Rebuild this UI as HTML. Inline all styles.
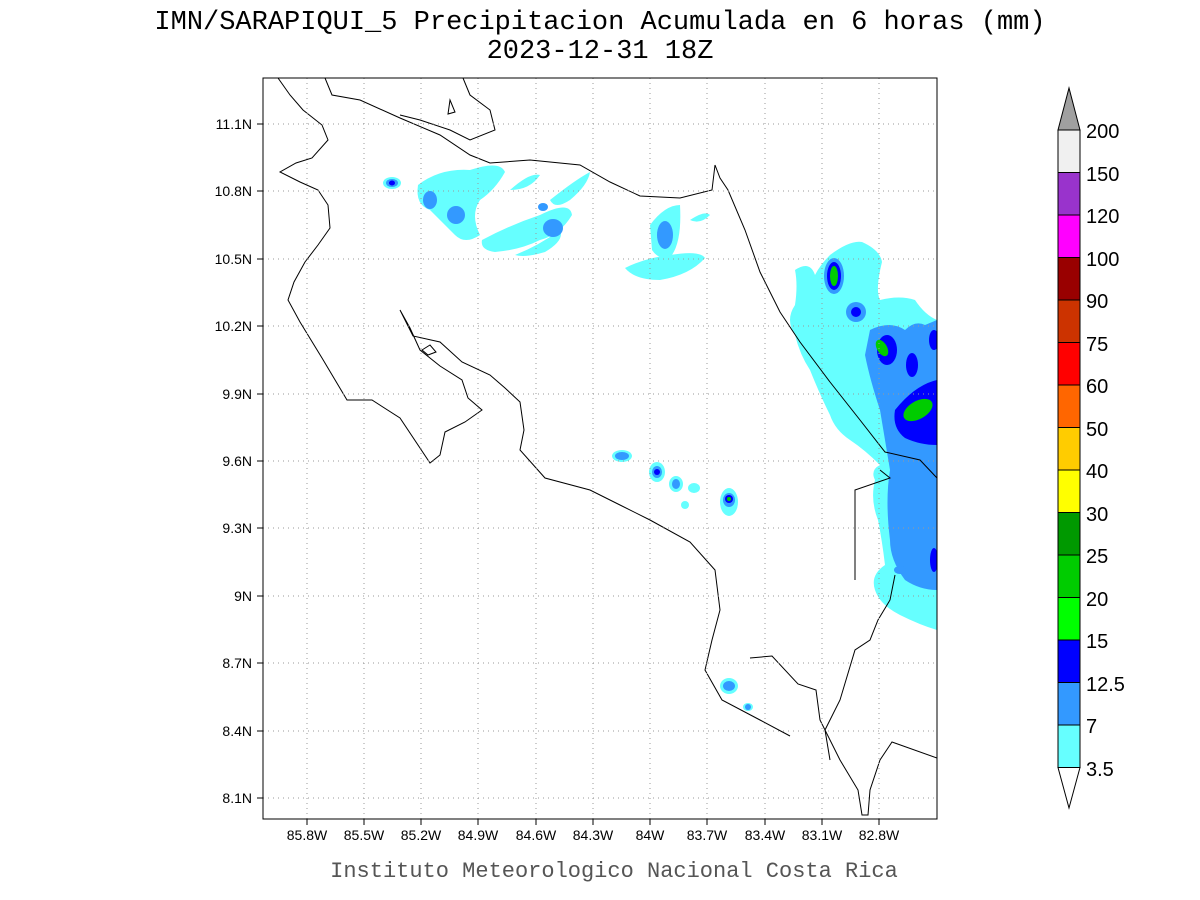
<!DOCTYPE html>
<html><head><meta charset="utf-8"><style>
html,body{margin:0;padding:0;background:#fff;}
svg{display:block}
</style></head><body>
<svg width="1200" height="900" viewBox="0 0 1200 900" xmlns="http://www.w3.org/2000/svg">
<rect width="1200" height="900" fill="#fff"/>
<text x="600" y="29" font-family="Liberation Mono, monospace" font-size="27" text-anchor="middle" fill="#000">IMN/SARAPIQUI_5 Precipitacion Acumulada en 6 horas (mm)</text>
<text x="600" y="58" font-family="Liberation Mono, monospace" font-size="27" text-anchor="middle" fill="#000">2023-12-31 18Z</text>
<defs><clipPath id="c"><rect x="263" y="78" width="674" height="741"/></clipPath></defs>
<g clip-path="url(#c)">
<g fill="#66ffff">
<ellipse cx="392" cy="183" rx="9" ry="6"/>
<path d="M418,185 Q440,168 470,170 Q500,160 505,172 Q495,190 480,200 Q470,215 480,235 Q465,245 455,235 Q440,220 430,210 Q415,205 418,185Z"/>
<path d="M482,240 Q510,225 540,215 Q570,200 572,215 Q560,235 540,240 Q520,250 495,252 Q480,250 482,240Z"/>
<path d="M515,255 Q540,245 560,230 Q565,240 545,252 Q525,258 515,255Z"/>
<path d="M510,190 Q530,172 540,175 Q530,190 510,190Z"/>
<path d="M550,200 Q575,180 590,172 Q588,185 570,200 Q555,210 550,200Z"/>
<path d="M650,225 Q665,205 680,205 Q682,240 672,255 Q660,262 652,250Z"/>
<path d="M625,268 Q645,258 670,255 Q700,250 705,258 Q690,275 660,280 Q635,280 625,268Z"/>
<path d="M690,220 Q705,210 710,215 Q700,225 690,220Z"/>
<path d="M795,270 Q810,260 815,275 Q820,265 830,255 Q850,240 862,242 Q880,250 882,262 Q875,290 880,300 Q900,295 915,300 Q925,315 937,320 L937,630 Q920,625 900,615 Q880,605 875,590 Q870,575 885,565 Q882,540 878,520 Q870,500 875,480 Q870,470 880,465 Q865,450 850,440 Q835,430 830,415 Q820,395 810,370 Q800,355 795,335 Q785,320 795,305 Q798,285 795,270Z"/>
<ellipse cx="622" cy="456" rx="10" ry="6"/>
<ellipse cx="657" cy="472" rx="8" ry="10"/>
<ellipse cx="676" cy="484" rx="7" ry="8"/>
<ellipse cx="694" cy="488" rx="6" ry="5"/>
<ellipse cx="685" cy="505" rx="4" ry="4"/>
<ellipse cx="729" cy="502" rx="9" ry="14"/>
<ellipse cx="729" cy="686" rx="9" ry="8"/>
<ellipse cx="748" cy="707" rx="5" ry="4"/>
</g>
<g fill="#3399ff">
<ellipse cx="392" cy="183" rx="6" ry="4"/>
<ellipse cx="430" cy="200" rx="7" ry="9"/>
<ellipse cx="456" cy="215" rx="9" ry="9"/>
<ellipse cx="553" cy="228" rx="10" ry="9"/>
<ellipse cx="543" cy="207" rx="5" ry="4"/>
<ellipse cx="665" cy="235" rx="8" ry="14"/>
<ellipse cx="834" cy="276" rx="10" ry="18"/>
<ellipse cx="856" cy="312" rx="10" ry="10"/>
<path d="M870,330 Q890,320 905,330 Q915,320 925,325 L937,320 L937,590 Q920,590 905,580 Q890,560 890,540 Q885,500 890,470 Q885,440 880,410 Q870,380 865,355Z"/>
<ellipse cx="622" cy="456" rx="7" ry="4"/>
<ellipse cx="657" cy="472" rx="5" ry="6"/>
<ellipse cx="676" cy="484" rx="4" ry="5"/>
<ellipse cx="729" cy="500" rx="6" ry="7"/>
<ellipse cx="729" cy="686" rx="6" ry="5"/>
<ellipse cx="748" cy="707" rx="3" ry="3"/>
<ellipse cx="900" cy="570" rx="6" ry="4"/>
</g>
<g fill="#0000ff">
<ellipse cx="392" cy="183" rx="3" ry="2.5"/>
<ellipse cx="834" cy="276" rx="7" ry="14"/>
<ellipse cx="856" cy="312" rx="5" ry="5"/>
<ellipse cx="887" cy="350" rx="10" ry="15"/>
<ellipse cx="912" cy="365" rx="6" ry="12"/>
<path d="M895,410 Q915,385 937,380 L937,445 Q920,445 905,438 Q892,428 895,410Z"/>
<ellipse cx="934" cy="340" rx="5" ry="10"/>
<ellipse cx="934" cy="560" rx="4" ry="12"/>
<ellipse cx="729" cy="499" rx="4" ry="4"/>
<ellipse cx="657" cy="472" rx="3" ry="3"/>
</g>
<g fill="#00cc00">
<ellipse cx="834" cy="276" rx="4" ry="10"/>
<ellipse cx="882" cy="348" rx="5" ry="9" transform="rotate(-30 882 348)"/>
<ellipse cx="918" cy="410" rx="16" ry="9" transform="rotate(-30 918 410)"/>
<ellipse cx="729" cy="499" rx="2" ry="2"/>
</g>
<g fill="none" stroke="#000" stroke-width="1">
<path d="M278,78 L290,95 L303,110 L322,125 L328,140 L312,158 L296,163 L280,172 L300,182 L318,190 L328,205 L330,228 L318,245 L305,262 L294,282 L288,300 L300,322 L322,358 L347,400 L372,400 L400,418 L430,463 L440,455 L445,432 L465,422 L482,410 L468,398 L462,380 L440,366 L420,350 L410,328 L400,310 L413,336 L440,342 L462,362 L490,375 L505,388 L520,402 L524,430 L520,450 L545,478 L590,490 L620,505 L650,520 L690,542 L715,570 L720,610 L712,640 L705,670 L722,700 L760,720 L790,736"/>
<path d="M750,658 L772,656 L798,684 L816,690 L820,720 L840,760 L858,790 L862,815 L868,815 L870,790 L880,760 L892,742 L937,758"/>
<path d="M325,78 L332,95 L360,100 L400,118 L440,135 L470,155 L490,163 L530,160 L580,165 L610,182 L640,196 L680,198 L712,190 L715,165 L720,178 L728,190 L745,230 L760,272 L780,312 L800,342 L830,382 L860,420 L885,452 L920,460 L937,478"/>
<path d="M463,78 L470,95 L490,110 L495,130 L470,140 L450,130 L420,120 L400,115"/>
<path d="M855,580 L855,490 L890,478 L880,470 M895,575 L890,600 L878,620 L870,640 L855,650 L840,700 L825,730 L830,760"/>
<path d="M450,100 L455,112 L448,114 Z"/>
<path d="M422,350 L430,345 L436,352 L428,355 Z"/>
</g>
</g>
<g stroke="#999" stroke-width="1" stroke-dasharray="1,4">
<line x1="307" y1="78" x2="307" y2="819"/><line x1="364" y1="78" x2="364" y2="819"/><line x1="421" y1="78" x2="421" y2="819"/><line x1="478" y1="78" x2="478" y2="819"/><line x1="536" y1="78" x2="536" y2="819"/><line x1="593" y1="78" x2="593" y2="819"/><line x1="650" y1="78" x2="650" y2="819"/><line x1="707" y1="78" x2="707" y2="819"/><line x1="765" y1="78" x2="765" y2="819"/><line x1="822" y1="78" x2="822" y2="819"/><line x1="879" y1="78" x2="879" y2="819"/>
<line x1="263" y1="124" x2="937" y2="124"/><line x1="263" y1="191" x2="937" y2="191"/><line x1="263" y1="259" x2="937" y2="259"/><line x1="263" y1="326" x2="937" y2="326"/><line x1="263" y1="394" x2="937" y2="394"/><line x1="263" y1="461" x2="937" y2="461"/><line x1="263" y1="528" x2="937" y2="528"/><line x1="263" y1="596" x2="937" y2="596"/><line x1="263" y1="663" x2="937" y2="663"/><line x1="263" y1="731" x2="937" y2="731"/><line x1="263" y1="798" x2="937" y2="798"/>
</g>
<rect x="263" y="78" width="674" height="741" fill="none" stroke="#000" stroke-width="1"/>
<g stroke="#000">
<line x1="307" y1="819" x2="307" y2="825"/><line x1="364" y1="819" x2="364" y2="825"/><line x1="421" y1="819" x2="421" y2="825"/><line x1="478" y1="819" x2="478" y2="825"/><line x1="536" y1="819" x2="536" y2="825"/><line x1="593" y1="819" x2="593" y2="825"/><line x1="650" y1="819" x2="650" y2="825"/><line x1="707" y1="819" x2="707" y2="825"/><line x1="765" y1="819" x2="765" y2="825"/><line x1="822" y1="819" x2="822" y2="825"/><line x1="879" y1="819" x2="879" y2="825"/>
<line x1="257" y1="124" x2="263" y2="124"/><line x1="257" y1="191" x2="263" y2="191"/><line x1="257" y1="259" x2="263" y2="259"/><line x1="257" y1="326" x2="263" y2="326"/><line x1="257" y1="394" x2="263" y2="394"/><line x1="257" y1="461" x2="263" y2="461"/><line x1="257" y1="528" x2="263" y2="528"/><line x1="257" y1="596" x2="263" y2="596"/><line x1="257" y1="663" x2="263" y2="663"/><line x1="257" y1="731" x2="263" y2="731"/><line x1="257" y1="798" x2="263" y2="798"/>
</g>
<g font-family="Liberation Sans, sans-serif" font-size="14" fill="#000" text-anchor="middle">
<text x="307" y="840">85.8W</text><text x="364" y="840">85.5W</text><text x="421" y="840">85.2W</text><text x="478" y="840">84.9W</text><text x="536" y="840">84.6W</text><text x="593" y="840">84.3W</text><text x="650" y="840">84W</text><text x="707" y="840">83.7W</text><text x="765" y="840">83.4W</text><text x="822" y="840">83.1W</text><text x="879" y="840">82.8W</text>
</g>
<g font-family="Liberation Sans, sans-serif" font-size="14" fill="#000" text-anchor="end">
<text x="252" y="129">11.1N</text><text x="252" y="196">10.8N</text><text x="252" y="264">10.5N</text><text x="252" y="331">10.2N</text><text x="252" y="399">9.9N</text><text x="252" y="466">9.6N</text><text x="252" y="533">9.3N</text><text x="252" y="601">9N</text><text x="252" y="668">8.7N</text><text x="252" y="736">8.4N</text><text x="252" y="803">8.1N</text>
</g>
<text x="614" y="877" font-family="Liberation Mono, monospace" font-size="22" fill="#555" text-anchor="middle">Instituto Meteorologico Nacional Costa Rica</text>
<g stroke="#000" stroke-width="1">
<polygon points="1058,130 1080,130 1069,88" fill="#a0a0a0"/>
<rect x="1058" y="130" width="22" height="42.5" fill="#f0f0f0"/>
<rect x="1058" y="172.5" width="22" height="42.5" fill="#9933cc"/>
<rect x="1058" y="215" width="22" height="42.5" fill="#ff00ff"/>
<rect x="1058" y="257.5" width="22" height="42.5" fill="#990000"/>
<rect x="1058" y="300" width="22" height="42.5" fill="#cc3300"/>
<rect x="1058" y="342.5" width="22" height="42.5" fill="#ff0000"/>
<rect x="1058" y="385" width="22" height="42.5" fill="#ff6600"/>
<rect x="1058" y="427.5" width="22" height="42.5" fill="#ffcc00"/>
<rect x="1058" y="470" width="22" height="42.5" fill="#ffff00"/>
<rect x="1058" y="512.5" width="22" height="42.5" fill="#009900"/>
<rect x="1058" y="555" width="22" height="42.5" fill="#00cc00"/>
<rect x="1058" y="597.5" width="22" height="42.5" fill="#00ff00"/>
<rect x="1058" y="640" width="22" height="42.5" fill="#0000ff"/>
<rect x="1058" y="682.5" width="22" height="42.5" fill="#3399ff"/>
<rect x="1058" y="725" width="22" height="42.5" fill="#66ffff"/>
<polygon points="1058,767.5 1080,767.5 1069,808" fill="#fff"/>
</g>
<g font-family="Liberation Sans, sans-serif" font-size="20" fill="#000">
<text x="1086" y="138">200</text><text x="1086" y="181">150</text><text x="1086" y="223">120</text><text x="1086" y="266">100</text><text x="1086" y="308">90</text><text x="1086" y="351">75</text><text x="1086" y="393">60</text><text x="1086" y="436">50</text><text x="1086" y="478">40</text><text x="1086" y="521">30</text><text x="1086" y="563">25</text><text x="1086" y="606">20</text><text x="1086" y="648">15</text><text x="1086" y="691">12.5</text><text x="1086" y="733">7</text><text x="1086" y="776">3.5</text>
</g>
</svg>
</body></html>
